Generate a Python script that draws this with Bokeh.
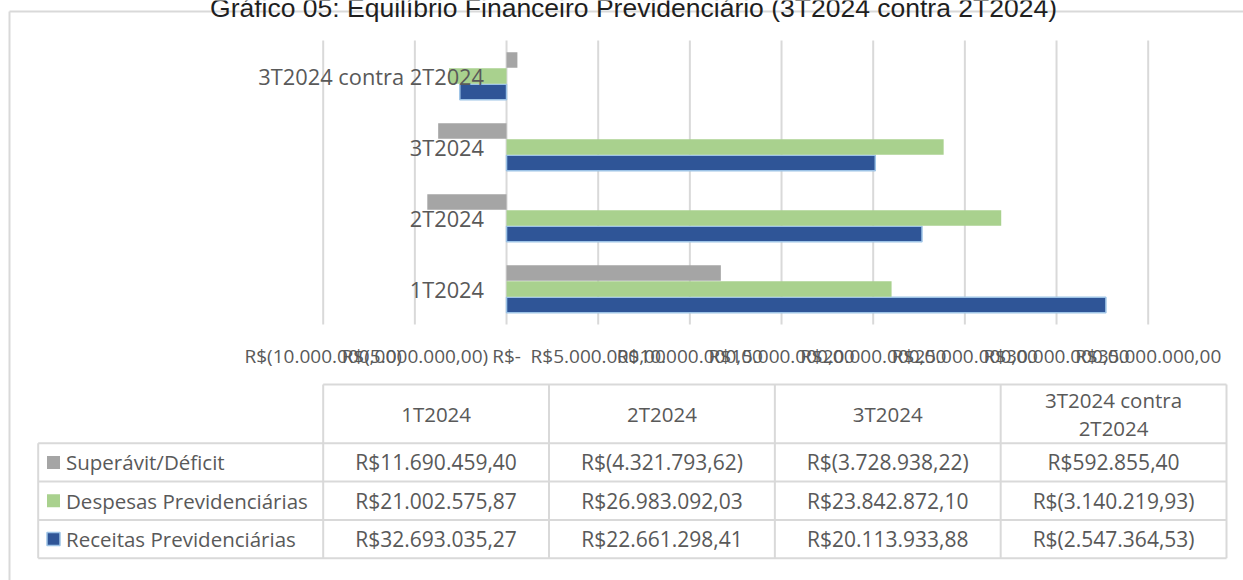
from bokeh.plotting import figure
from bokeh.models import Range1d
from bokeh.core.properties import value
from bokeh.embed import file_html
from bokeh.resources import INLINE

# ---------------- data ----------------
title_text = "Gráfico 05: Equilíbrio Financeiro Previdenciário (3T2024 contra 2T2024)"
categories = ["1T2024", "2T2024", "3T2024", "3T2024 contra 2T2024"]
header_labels = ["1T2024", "2T2024", "3T2024", "3T2024 contra\n2T2024"]
series_names = ["Superávit/Déficit", "Despesas Previdenciárias", "Receitas Previdenciárias"]
superavit = [11690459.40, -4321793.62, -3728938.22, 592855.40]
despesas = [21002575.87, 26983092.03, 23842872.10, -3140219.93]
receitas = [32693035.27, 22661298.41, 20113933.88, -2547364.53]
tick_values = [-10e6, -5e6, 0, 5e6, 10e6, 15e6, 20e6, 25e6, 30e6, 35e6]
tick_labels = ["R$(10.000.000,00)", "R$(5.000.000,00)", "R$-", "R$5.000.000,00",
               "R$10.000.000,00", "R$15.000.000,00", "R$20.000.000,00",
               "R$25.000.000,00", "R$30.000.000,00", "R$35.000.000,00"]

# ---------------- style / layout ----------------
GRAY, GREEN, BLUE, BLUE_EDGE = "#A5A5A5", "#A9D18E", "#2F5597", "#9DC3E6"
TXT = "#595959"
LINE = "#D9D9D9"
FONT = "Open Sans"
W, H = 1243, 580
X_MIN_PX, X_MAX_PX = 322.7, 1147.7     # x of first / last tick
PPU = (X_MAX_PX - X_MIN_PX) / (tick_values[-1] - tick_values[0])
X_ZERO = X_MIN_PX - tick_values[0] * PPU
PLOT_TOP, PLOT_BOT = 40.0, 324.0
CAT_H = (PLOT_BOT - PLOT_TOP) / len(categories)


def br(v):
    s = f"{abs(v):,.2f}".replace(",", "X").replace(".", ",").replace("X", ".")
    return f"R$({s})" if v < 0 else f"R${s}"


x_start = (0 - X_ZERO) / PPU
x_end = (W - X_ZERO) / PPU
c0 = PLOT_BOT - CAT_H / 2          # y of category 0 center
y_start = (c0 - H) / CAT_H
y_end = c0 / CAT_H

p = figure(width=W, height=H, x_range=Range1d(x_start, x_end), y_range=Range1d(y_start, y_end),
           toolbar_location=None, output_backend="svg", min_border=0,
           x_axis_location=None, y_axis_location=None, outline_line_color=None)
p.extra_x_ranges = {"px": Range1d(0, W)}
p.extra_y_ranges = {"px": Range1d(H, 0)}
p.xgrid.visible = False
p.ygrid.visible = False
p.background_fill_color = "white"
p.border_fill_color = "white"

# frame (left + top lines; right/bottom lie outside the window)
p.segment(x0=[9, 9], y0=[11, 11], x1=[9, 1300], y1=[700, 11], x_range_name="px",
          y_range_name="px", line_color=LINE, line_width=2)

# title
p.text(x=[633], y=[7], text=[title_text], x_range_name="px", y_range_name="px",
       text_font=value("Liberation Sans"), text_font_size="26.5px", text_color="#1f1f1f",
       text_align="center", text_baseline="alphabetic")

# vertical gridlines
p.segment(x0=tick_values, x1=tick_values, y0=[PLOT_TOP] * len(tick_values),
          y1=[PLOT_BOT] * len(tick_values), y_range_name="px", line_color=LINE, line_width=2)

# bars
idx = list(range(len(categories)))
off = 0.2254
bh = 0.215
p.hbar(y=[i - off for i in idx], left=0, right=receitas, height=bh,
       fill_color=BLUE, line_color=BLUE_EDGE, line_width=1.5)
p.hbar(y=[i for i in idx], left=0, right=despesas, height=bh,
       fill_color=GREEN, line_color=None)
p.hbar(y=[i + off for i in idx], left=0, right=superavit, height=bh,
       fill_color=GRAY, line_color=None)

# category labels next to the zero line
p.text(x=[0] * len(categories), y=idx, text=categories, x_offset=-22.5,
       text_font=value(FONT), text_font_size="21.8px", text_color=TXT,
       text_align="right", text_baseline="middle")

# tick labels
p.text(x=tick_values, y=[355] * len(tick_values), text=tick_labels, y_range_name="px",
       text_font=value(FONT), text_font_size="19px", text_color=TXT,
       text_align="center", text_baseline="middle")

# ---------------- data table ----------------
TL, TC0, TR = 37.7, 322.7, 1226.0
T_TOP, H_BOT = 384.0, 442.7
ROW_H = 38.35
ncol = len(categories)
col_w = (TR - TC0) / ncol
col_x = [TC0 + k * col_w for k in range(ncol + 1)]
row_y = [H_BOT + k * ROW_H for k in range(len(series_names) + 1)]

hx0 = [TC0] + [TL] * len(row_y)
hx1 = [TR] * (len(row_y) + 1)
hy = [T_TOP] + row_y
p.segment(x0=hx0, x1=hx1, y0=hy, y1=hy, x_range_name="px", y_range_name="px",
          line_color=LINE, line_width=2)
vx = [TL] + col_x
vy0 = [H_BOT] + [T_TOP] * len(col_x)
vy1 = [row_y[-1]] * len(vx)
p.segment(x0=vx, x1=vx, y0=vy0, y1=vy1, x_range_name="px", y_range_name="px",
          line_color=LINE, line_width=2)

# header
hc = [(col_x[k] + col_x[k + 1]) / 2 for k in range(ncol)]
p.text(x=hc, y=[(T_TOP + H_BOT) / 2 + 0.5] * ncol, text=header_labels, x_range_name="px",
       y_range_name="px", text_font=value(FONT), text_font_size="20.5px", text_color=TXT,
       text_align="center", text_baseline="middle", text_line_height=1.0)

# rows
series_vals = [superavit, despesas, receitas]
colors = [GRAY, GREEN, BLUE]
edges = [None, None, BLUE_EDGE]
for r, (name, vals, col, edge) in enumerate(zip(series_names, series_vals, colors, edges)):
    yc = (row_y[r] + row_y[r + 1]) / 2
    p.rect(x=[53], y=[yc], width=13, height=13, x_range_name="px", y_range_name="px",
           fill_color=col, line_color=edge, line_width=1.5)
    p.text(x=[65.5], y=[yc], text=[name], x_range_name="px", y_range_name="px",
           text_font=value(FONT), text_font_size="20.5px", text_color=TXT,
           text_align="left", text_baseline="middle")
    p.text(x=hc, y=[yc] * ncol, text=[br(v) for v in vals], x_range_name="px",
           y_range_name="px", text_font=value(FONT), text_font_size="21px",
           text_color=TXT, text_align="center", text_baseline="middle")

open("out.html", "w").write(file_html(p, INLINE))
